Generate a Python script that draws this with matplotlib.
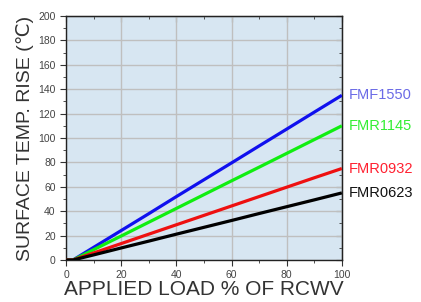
import matplotlib
matplotlib.use("Agg")
import matplotlib.pyplot as plt
from matplotlib.ticker import MultipleLocator

plt.rcParams['font.family'] = ['Liberation Sans', 'DejaVu Sans']

# applied load (% of RCWV)
load = [0, 2.5, 10, 20, 30, 40, 50, 60, 70, 80, 90, 100]

fmf1550 = [0, 0, 10.4, 24.2, 38, 52, 65.8, 79.6, 93.5, 107.3, 121.2, 135]
fmr1145 = [0, 0, 8.5, 19.7, 31, 42.3, 53.6, 64.9, 76.1, 87.4, 98.7, 110]
fmr0932 = [0, 0, 5.8, 13.5, 21.2, 28.9, 36.6, 44.3, 52, 59.7, 67.4, 75]
fmr0623 = [0, 0, 4.2, 9.9, 15.5, 21.2, 26.8, 32.4, 38.1, 43.7, 49.3, 55]

names = ["FMF1550", "FMR1145", "FMR0932", "FMR0623"]
series = [fmf1550, fmr1145, fmr0932, fmr0623]
line_colors = ["#1010ee", "#10ee10", "#ee1010", "#000000"]
text_colors = ["#6a6ae6", "#33ee33", "#ff2030", "#111111"]

fig = plt.figure(figsize=(4.21, 3.02), dpi=100)
ax = fig.add_axes([0.157, 0.139, 0.655, 0.808])
ax.set_facecolor("#d7e6f2")

for vals, c in zip(series, line_colors):
    ax.plot(load, vals, color=c, lw=2.3, solid_capstyle="butt", zorder=3)

ax.set_xlim(0, 100)
ax.set_ylim(0, 200)
ax.xaxis.set_major_locator(MultipleLocator(20))
ax.xaxis.set_minor_locator(MultipleLocator(10))
ax.yaxis.set_major_locator(MultipleLocator(20))
ax.yaxis.set_minor_locator(MultipleLocator(10))
ax.grid(True, which="major", color="#bfbfbf", lw=1, zorder=1)

ax.tick_params(which="both", direction="out", top=False, right=False,
               labelsize=7.5, labelcolor="#444444", color="#333333")
ax.tick_params(which="major", length=4)
ax.tick_params(which="minor", length=2.5)
for s in ax.spines.values():
    s.set_color("#222222")
    s.set_linewidth(1)

# inward ticks on top and right
ax2 = ax.secondary_xaxis("top")
ax2.xaxis.set_major_locator(MultipleLocator(20))
ax2.xaxis.set_minor_locator(MultipleLocator(10))
ax2.tick_params(which="both", direction="in", labeltop=False, color="#333333")
ax2.tick_params(which="major", length=4)
ax2.tick_params(which="minor", length=2.5)
ay2 = ax.secondary_yaxis("right")
ay2.yaxis.set_major_locator(MultipleLocator(20))
ay2.yaxis.set_minor_locator(MultipleLocator(10))
ay2.tick_params(which="both", direction="in", labelright=False, color="#333333")
ay2.tick_params(which="major", length=4)
ay2.tick_params(which="minor", length=2.5)

ax.set_xlabel("APPLIED LOAD % OF RCWV", fontsize=15, color="#333333", labelpad=0)
ax.set_ylabel("SURFACE TEMP. RISE (℃)", fontsize=14, color="#333333", labelpad=3)

for name, vals, c in zip(names, series, text_colors):
    ax.annotate(name, xy=(1, vals[-1]), xycoords=("axes fraction", "data"),
                xytext=(5, 0), textcoords="offset points", va="center",
                ha="left", fontsize=10.5, color=c)

fig.savefig("out.png", dpi=100)
